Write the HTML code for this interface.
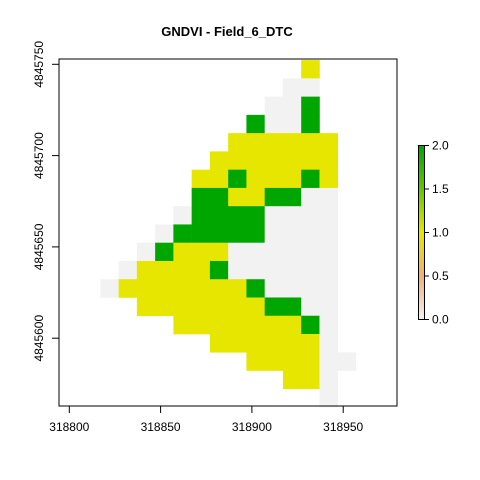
<!DOCTYPE html>
<html><head><meta charset="utf-8"><style>
body{margin:0;background:#fff}
svg{display:block;font-family:"Liberation Sans",Arial,sans-serif}
</style></head><body>
<svg id="chart" width="480" height="480" viewBox="0 0 480 480">
<text x="227" y="36" text-anchor="middle" font-size="13" font-weight="bold">GNDVI - Field_6_DTC</text>
<g id="cells"></g>
<rect x="59" y="59" width="338" height="347" fill="none" stroke="#000" stroke-width="1"/>
<g id="xaxis"></g>
<g id="yaxis"></g>
<g id="legend"></g>
</svg>
<script>
// Raster grid (rows top->bottom), '.' = empty, digits = GNDVI value
const rows = [
"...........1..",
"..........00..",
".........002..",
"........2002..",
".......111111.",
"......1111111.",
".....11211121.",
".....22112200.",
"....022220000.",
"...0222220000.",
"..02111000000.",
".011112000000.",
"01111111200000".slice(0,13)+".",
"..111111122000".slice(0,13)+".",
"....1111111200".slice(0,13)+".",
"......1111110.",
"........111100",
"..........110.",
"............0."
];
const xTicks = [318800, 318850, 318900, 318950];
const yTicks = [4845600, 4845650, 4845700, 4845750];
const legendTicks = [0.0, 0.5, 1.0, 1.5, 2.0];
const cellOriginX = 318817, cellOriginY = 4845752.3, cellSize = 10;

const NS = "http://www.w3.org/2000/svg";
const sx = v => 69.3 + (v - 318800) * 1.826;
const sy = v => 64.3 - (v - 4845750) * 1.826;
function color(v){
  const stops=[[0,[242,242,242]],[0.5,[236,177,118]],[1,[230,230,0]],[1.5,[99,198,0]],[2,[0,166,0]]];
  for(let i=0;i<stops.length-1;i++){
    const [a,ca]=stops[i],[b,cb]=stops[i+1];
    if(v<=b){const t=(v-a)/(b-a);return "rgb("+ca.map((c,k)=>Math.round(c+(cb[k]-c)*t)).join(",")+")";}
  }
  return "rgb(0,166,0)";
}
function mk(tag, attrs, parent){const e=document.createElementNS(NS,tag);for(const k in attrs)e.setAttribute(k,attrs[k]);parent.appendChild(e);return e;}

const cg=document.getElementById("cells");
rows.forEach((row,r)=>{
  for(let c=0;c<row.length;c++){
    const ch=row[c]; if(ch==='.') continue;
    const v=+ch;
    const x1=sx(cellOriginX+c*cellSize), x2=sx(cellOriginX+(c+1)*cellSize);
    const y1=sy(cellOriginY-r*cellSize), y2=sy(cellOriginY-(r+1)*cellSize);
    const e=mk("rect",{x:x1,y:y1,width:x2-x1+0.3,height:y2-y1+0.3,fill:color(v)},cg);
    
    
  }
});

const xg=document.getElementById("xaxis");
mk("line",{x1:sx(318800),x2:sx(318950),y1:406,y2:406,stroke:"#000"},xg);
xTicks.forEach(t=>{
  mk("line",{x1:sx(t),x2:sx(t),y1:406,y2:413,stroke:"#000"},xg);
  const e=mk("text",{x:sx(t),y:431,"text-anchor":"middle","font-size":"12"},xg);
  e.textContent=t;
  
  
});
const yg=document.getElementById("yaxis");
yTicks.forEach(t=>{
  mk("line",{x1:52,x2:59,y1:sy(t),y2:sy(t),stroke:"#000"},yg);
  const e=mk("text",{x:0,y:0,"text-anchor":"middle","font-size":"12",transform:"translate(43,"+sy(t)+") rotate(-90)"},yg);
  e.textContent=t;
  
  
});

const lg=document.getElementById("legend");
const ly=v=>319.5-(v/2)*174;
const defs=mk("defs",{},lg);
const grad=mk("linearGradient",{id:"lgrad",x1:"0",y1:"1",x2:"0",y2:"0"},defs);
[0,0.5,1,1.5,2].forEach(v=>mk("stop",{offset:v/2,"stop-color":color(v)},grad));
mk("rect",{x:418.5,y:ly(2),width:6,height:ly(0)-ly(2),fill:"url(#lgrad)",stroke:"#000","stroke-width":"1"},lg);
legendTicks.forEach(t=>{
  mk("line",{x1:424.5,x2:429,y1:ly(t),y2:ly(t),stroke:"#000"},lg);
  const e=mk("text",{x:432,y:ly(t)+4,"font-size":"12"},lg);
  e.textContent=t.toFixed(1);
  
  
});
</script>
</body></html>
